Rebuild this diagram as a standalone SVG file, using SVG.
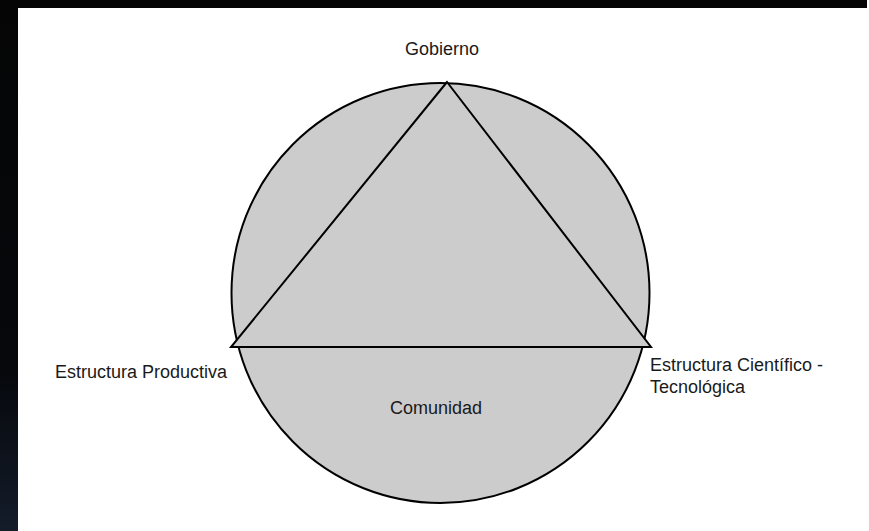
<svg xmlns="http://www.w3.org/2000/svg" width="869" height="531" viewBox="0 0 869 531">
  <defs>
    <linearGradient id="strip" x1="0" y1="0" x2="0" y2="1">
      <stop offset="0" stop-color="#050505"/>
      <stop offset="0.7" stop-color="#06080c"/>
      <stop offset="1" stop-color="#141c2a"/>
    </linearGradient>
    <style>
      .lbl { font-family: "Liberation Sans", Arial, sans-serif; font-size: 18px; fill: #1a1a1a; }
      .shape { fill: #cccccc; stroke: #000000; stroke-width: 2; }
      .edge { fill: none; stroke: #000000; stroke-width: 2; stroke-linejoin: miter; }
    </style>
  </defs>
  <rect x="0" y="0" width="869" height="531" fill="#ffffff"/>
  <rect x="0" y="0" width="867" height="8" fill="#050505"/>
  <rect x="0" y="0" width="18" height="531" fill="url(#strip)"/>

  <g id="circle">
    <ellipse class="shape" cx="440.5" cy="293" rx="209" ry="210"/>
  </g>
  <g id="triangle">
    <polygon class="shape" points="447,82 231,347 651,347"/>
  </g>

  <g id="connectors">
    <line class="edge" x1="231" y1="347" x2="651" y2="347"/>
  </g>

  <g id="gobierno">
    <text class="lbl" x="442" y="55" text-anchor="middle">Gobierno</text>
  </g>
  <g id="estructura-productiva">
    <text class="lbl" x="55" y="378">Estructura Productiva</text>
  </g>
  <g id="estructura-cientifico">
    <text class="lbl" x="650" y="371">Estructura Científico -</text>
    <text class="lbl" x="650" y="393">Tecnológica</text>
  </g>
  <g id="comunidad">
    <text class="lbl" x="390" y="414">Comunidad</text>
  </g>
</svg>
